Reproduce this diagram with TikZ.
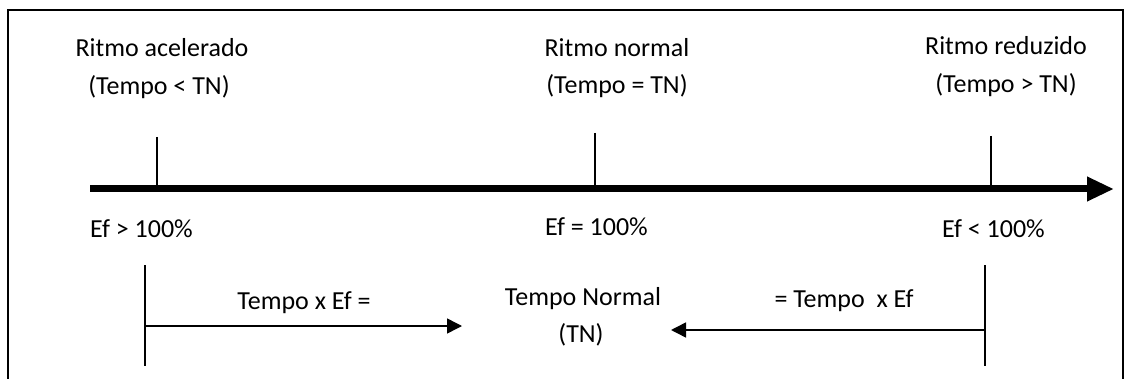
\documentclass[tikz,border=0pt]{standalone}
\usepackage{fontspec}
\setmainfont{Carlito}
\usetikzlibrary{arrows.meta}
\begin{document}
\begin{tikzpicture}[x=1pt,y=-1pt,
  lbl/.style={inner sep=0pt,anchor=base,font=\fontsize{26}{30}\selectfont},
  lblw/.style={inner sep=0pt,anchor=base west,font=\fontsize{26}{30}\selectfont},
  thin line/.style={line width=1.5pt},
  flow/.style={line width=1.5pt,-{Triangle[length=15pt,width=15pt]}}]
\useasboundingbox (0,0) rectangle (1131,379);
% open frame
\draw[line width=2pt] (8,379) -- (8,10) -- (1123,10) -- (1123,379);
% time axis
\coordinate (axs) at (90,189);
\coordinate (axe) at (1114,189);
\draw[line width=7pt,-{Triangle[length=27pt,width=23pt]}] (axs) -- (axe);
% ticks on the axis
\coordinate (t1) at (157,137); \coordinate (t1b) at (157,186);
\coordinate (t2) at (595,133); \coordinate (t2b) at (595,186);
\coordinate (t3) at (991,136); \coordinate (t3b) at (991,186);
\draw[thin line] (t1) -- (t1b);
\draw[thin line] (t2) -- (t2b);
\draw[thin line] (t3) -- (t3b);
% rhythm labels
\node[lbl] (ra) at (162,57) {Ritmo acelerado};
\node[lbl] (ra2) at (159,95) {(Tempo < TN)};
\node[lbl] (rn) at (617,57) {Ritmo normal};
\node[lbl] (rn2) at (617,94) {(Tempo = TN)};
\node[lbl] (rr) at (1006,55) {Ritmo reduzido};
\node[lbl] (rr2) at (1006,93) {(Tempo > TN)};
% efficiency labels
\node[lblw] (e1) at (90,237) {Ef > 100\%};
\node[lblw] (e2) at (545,236) {Ef = 100\%};
\node[lblw] (e3) at (942,237) {Ef < 100\%};
% conversion to normal time
\coordinate (lb1) at (145,265); \coordinate (lb2) at (145,366);
\coordinate (rb1) at (985,265); \coordinate (rb2) at (985,366);
\draw[thin line] (lb1) -- (lb2);
\draw[thin line] (rb1) -- (rb2);
\coordinate (la) at (145,326); \coordinate (lt) at (462,326);
\coordinate (ra0) at (985,330); \coordinate (rt) at (671,330);
\draw[flow] (la) -- (lt);
\draw[flow] (ra0) -- (rt);
\node[lbl] (f1) at (304,309) {Tempo x Ef =};
\node[lbl] (f2) at (844,307) {= Tempo\ \ x Ef};
\node[lbl] (tn) at (583,305) {Tempo Normal};
\node[lbl] (tn2) at (581,342) {(TN)};
\end{tikzpicture}
\end{document}
